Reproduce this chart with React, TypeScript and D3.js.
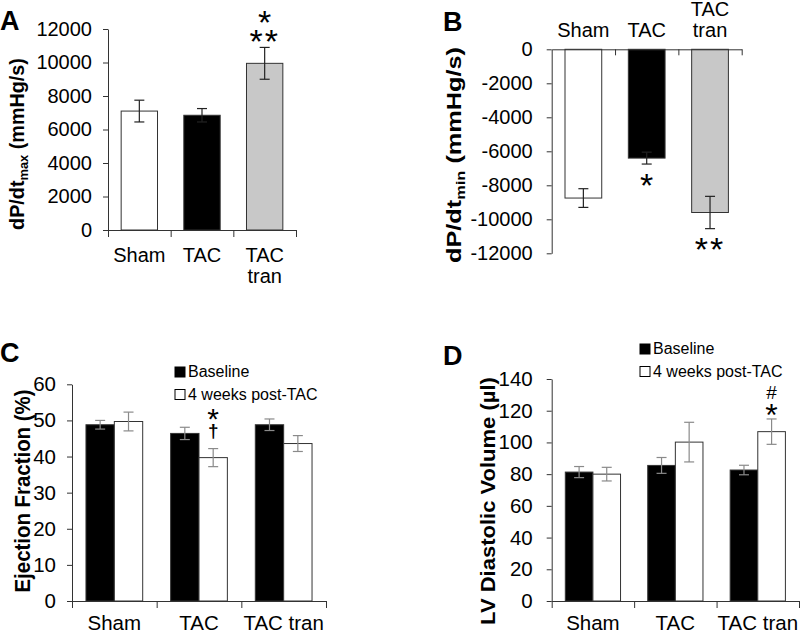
import React, { useEffect, useRef } from "react";
import * as d3 from "d3";

// groups and values
const groups = ["Sham", "TAC", "TAC tran"];
const barColors = ["#ffffff", "#000000", "#c8c8c8"];

const dpdtMax = [7100, 6850, 9950];
const dpdtMaxErr = [650, 400, 950];
const dpdtMin = [-8750, -6400, -9600];
const dpdtMinErr = [550, 350, 950];

const series = ["Baseline", "4 weeks post-TAC"];
const seriesColors = ["#000000", "#ffffff"];
const efBaseline = [48.8, 46.4, 48.8];
const efBaselineErr = [1.2, 1.7, 1.6];
const efPost = [49.7, 39.7, 43.6];
const efPostErr = [2.6, 2.5, 2.2];
const lvBaseline = [81.3, 85.5, 82.6];
const lvBaselineErr = [3.5, 5, 3];
const lvPost = [80, 100.2, 106.8];
const lvPostErr = [4.3, 12.5, 8];

const ticksA = [0, 2000, 4000, 6000, 8000, 10000, 12000];
const ticksB = [0, -2000, -4000, -6000, -8000, -10000, -12000];
const ticksC = [0, 10, 20, 30, 40, 50, 60];
const ticksD = [0, 20, 40, 60, 80, 100, 120, 140];

const FONT = "'Liberation Sans', Arial, sans-serif";
const AXIS_COLOR = "#333";

type Sel = d3.Selection<SVGGElement, unknown, null, undefined>;

function styleAxis(ax: Sel, fs: number) {
  ax.attr("font-family", FONT).attr("font-size", fs);
  ax.select(".domain").attr("stroke", AXIS_COLOR);
  ax.selectAll(".tick line").attr("stroke", AXIS_COLOR);
  ax.selectAll(".tick text").attr("fill", "#000");
}

function errBar(g: Sel, x: number, ya: number, yb: number, color: string) {
  const cap = 5;
  g.append("line").attr("x1", x).attr("x2", x).attr("y1", ya).attr("y2", yb).attr("stroke", color).attr("stroke-width", 1.2);
  [ya, yb].forEach((y) =>
    g.append("line").attr("x1", x - cap).attr("x2", x + cap).attr("y1", y).attr("y2", y).attr("stroke", color).attr("stroke-width", 1.2)
  );
}

// symbol centred vertically at cy (centerEm = glyph centre above baseline)
function mark(g: Sel, x: number, cy: number, s: string, fs: number, centerEm: number, weight = "normal") {
  g.append("text")
    .attr("x", x)
    .attr("y", cy + centerEm * fs)
    .attr("text-anchor", "middle")
    .attr("font-size", fs)
    .attr("font-weight", weight)
    .attr("letter-spacing", s.length > 1 ? 2 : 0)
    .text(s);
}

function yLabel(g: Sel, bx: number, cy: number, fs: number, len: number, main: string, sub: string, rest: string) {
  const t = g
    .append("text")
    .attr("text-anchor", "middle")
    .attr("font-weight", "bold")
    .attr("font-size", fs);
  t.append("tspan").text(main);
  if (sub) {
    t.append("tspan").attr("font-size", fs * 0.65).attr("dy", fs * 0.22).text(sub);
    t.append("tspan").attr("dy", -fs * 0.22).text(rest);
  }
  const natural = (t.node() as SVGTextElement).getComputedTextLength();
  t.attr("transform", `translate(${bx},${cy}) rotate(-90) scale(${len / natural},1)`);
}

function panelLetter(g: Sel, x: number, y: number, s: string) {
  g.append("text").attr("x", x).attr("y", y).attr("font-size", 27).attr("font-weight", "bold").text(s);
}

export default function App() {
  const ref = useRef<SVGSVGElement>(null);

  useEffect(() => {
    const svg = d3.select(ref.current);
    svg.selectAll("*").remove();
    const root = svg.append("g").attr("font-family", FONT) as unknown as Sel;

    // ---------- A : dP/dt max ----------
    {
      const g = root.append("g") as Sel;
      const x0 = 108, x1 = 296;
      const x = d3.scaleBand<string>().domain(groups).range([x0, x1]).paddingInner(0.42).paddingOuter(0.21);
      const y = d3.scaleLinear().domain([0, 12000]).range([230, 29]);
      const bw = x.bandwidth();

      g.selectAll("rect")
        .data(groups)
        .join("rect")
        .attr("x", (d) => x(d)!)
        .attr("y", (d, i) => y(dpdtMax[i]))
        .attr("width", bw)
        .attr("height", (d, i) => y(0) - y(dpdtMax[i]))
        .attr("fill", (d, i) => barColors[i])
        .attr("stroke", AXIS_COLOR);

      groups.forEach((d, i) =>
        errBar(g, x(d)! + bw / 2, y(dpdtMax[i] + dpdtMaxErr[i]), y(dpdtMax[i] - dpdtMaxErr[i]), "#222")
      );

      const ya = g.append("g").attr("transform", `translate(${x0},0)`) as Sel;
      ya.call(d3.axisLeft(y).tickValues(ticksA).tickFormat((d) => String(d)).tickSize(5).tickPadding(11).tickSizeOuter(0));
      styleAxis(ya, 20);

      const bnd = d3.scaleLinear().domain([0, 3]).range([x0, x1]);
      const xa = g.append("g").attr("transform", `translate(0,${y(0)})`) as Sel;
      xa.call(d3.axisBottom(bnd).tickValues([0, 1, 2, 3]).tickFormat(() => "").tickSize(7).tickSizeOuter(0));
      styleAxis(xa, 20);

      groups.forEach((d) => {
        d.split(" ").forEach((line, k) =>
          g.append("text").attr("x", x(d)! + bw / 2).attr("y", 262 + k * 20.5).attr("text-anchor", "middle").attr("font-size", 20).text(line)
        );
      });

      const top = y(dpdtMax[2] + dpdtMaxErr[2]);
      mark(g, x(groups[2])! + bw / 2, top - 14, "**", 34, 0.57);
      mark(g, x(groups[2])! + bw / 2, top - 33, "*", 34, 0.57);

      yLabel(g, 24, 144, 20, 172, "dP/dt", "max", " (mmHg/s)");
      panelLetter(g, 0, 30, "A");
    }

    // ---------- B : dP/dt min ----------
    {
      const g = root.append("g") as Sel;
      const x0 = 551.7, x1 = 741.7;
      const x = d3.scaleBand<string>().domain(groups).range([x0, x1]).paddingInner(0.42).paddingOuter(0.21);
      const y = d3.scaleLinear().domain([-12000, 0]).range([253.3, 49.3]);
      const bw = x.bandwidth();

      g.selectAll("rect")
        .data(groups)
        .join("rect")
        .attr("x", (d) => x(d)!)
        .attr("y", y(0))
        .attr("width", bw)
        .attr("height", (d, i) => y(dpdtMin[i]) - y(0))
        .attr("fill", (d, i) => barColors[i])
        .attr("stroke", AXIS_COLOR);

      groups.forEach((d, i) =>
        errBar(g, x(d)! + bw / 2, y(dpdtMin[i] + dpdtMinErr[i]), y(dpdtMin[i] - dpdtMinErr[i]), "#222")
      );

      const ya = g.append("g").attr("transform", `translate(${x0},0)`) as Sel;
      ya.call(d3.axisLeft(y).tickValues(ticksB).tickFormat((d) => String(d)).tickSize(5).tickPadding(14).tickSizeOuter(0));
      styleAxis(ya, 20);

      const bnd = d3.scaleLinear().domain([0, 3]).range([x0, x1]);
      const xa = g.append("g").attr("transform", `translate(0,${y(0)})`) as Sel;
      xa.call(d3.axisBottom(bnd).tickValues([1, 2, 3]).tickFormat(() => "").tickSize(6).tickSizeOuter(0));
      styleAxis(xa, 20);

      groups.forEach((d) => {
        const lines = d.split(" ");
        lines.forEach((line, k) =>
          g.append("text")
            .attr("x", x(d)! + bw / 2)
            .attr("y", 37 - (lines.length - 1 - k) * 21.5)
            .attr("text-anchor", "middle")
            .attr("font-size", 20)
            .text(line)
        );
      });

      mark(g, x(groups[1])! + bw / 2, y(dpdtMin[1] - dpdtMinErr[1]) + 14, "*", 34, 0.57);
      mark(g, x(groups[2])! + bw / 2, y(dpdtMin[2] - dpdtMinErr[2]) + 13, "**", 34, 0.57);

      yLabel(g, 461, 155, 20, 216, "dP/dt", "min", " (mmHg/s)");
      panelLetter(g, 443, 31, "B");
    }

    // ---------- grouped panels C and D ----------
    const grouped = (
      x0: number, x1: number, y0: number, y1: number, max: number, ticks: number[], pad: number,
      base: number[], baseErr: number[], post: number[], postErr: number[], lx: number, ly0: number
    ) => {
      const g = root.append("g") as Sel;
      const x = d3.scaleBand<string>().domain(groups).range([x0, x1]).paddingInner(0.33).paddingOuter(0.165);
      const xs = d3.scaleBand<string>().domain(series).range([0, x.bandwidth()]);
      const y = d3.scaleLinear().domain([0, max]).range([y0, y1]);
      const vals = [base, post];
      const errs = [baseErr, postErr];

      series.forEach((s, si) => {
        g.append("g")
          .selectAll("rect")
          .data(groups)
          .join("rect")
          .attr("x", (d) => x(d)! + xs(s)!)
          .attr("y", (d, i) => y(vals[si][i]))
          .attr("width", xs.bandwidth())
          .attr("height", (d, i) => y(0) - y(vals[si][i]))
          .attr("fill", seriesColors[si])
          .attr("stroke", AXIS_COLOR);
      });
      series.forEach((s, si) =>
        groups.forEach((d, i) =>
          errBar(g, x(d)! + xs(s)! + xs.bandwidth() / 2, y(vals[si][i] + errs[si][i]), y(vals[si][i] - errs[si][i]), "#8a8a8a")
        )
      );

      const ya = g.append("g").attr("transform", `translate(${x0},0)`) as Sel;
      ya.call(d3.axisLeft(y).tickValues(ticks).tickSize(5).tickPadding(pad).tickSizeOuter(0));
      styleAxis(ya, 20.5);

      const bnd = d3.scaleLinear().domain([0, 3]).range([x0, x1]);
      const xa = g.append("g").attr("transform", `translate(0,${y(0)})`) as Sel;
      xa.call(d3.axisBottom(bnd).tickValues([0, 1, 2, 3]).tickFormat(() => "").tickSize(7).tickSizeOuter(0));
      styleAxis(xa, 20);

      groups.forEach((d) =>
        g.append("text").attr("x", x(d)! + x.bandwidth() / 2).attr("y", 630).attr("text-anchor", "middle").attr("font-size", 20.5).text(d)
      );

      // legend
      series.forEach((s, si) => {
        const ly = ly0 + si * 22.5;
        g.append("rect").attr("x", lx).attr("y", ly - 10).attr("width", 10).attr("height", 10).attr("fill", seriesColors[si]).attr("stroke", "#000");
        g.append("text").attr("x", lx + 13).attr("y", ly).attr("font-size", 16).text(s);
      });
      return { g, x, xs, y };
    };

    {
      const { g, x, xs, y } = grouped(72, 326, 601, 384.3, 60, ticksC, 11, efBaseline, efBaselineErr, efPost, efPostErr, 175, 377);
      const cx = x(groups[1])! + xs(series[1])! + xs.bandwidth() / 2;
      const top = y(efPost[1] + efPostErr[1]);
      mark(g, cx, top - 17, "†", 19, 0.28, "bold");
      mark(g, cx, top - 37, "*", 30, 0.57);
      yLabel(g, 30, 491, 22, 203, "Ejection Fraction (%)", "", "");
      panelLetter(g, 0, 362, "C");
    }
    {
      const { g, x, xs, y } = grouped(551.7, 799, 601, 379, 140, ticksD, 14, lvBaseline, lvBaselineErr, lvPost, lvPostErr, 640, 354);
      const cx = x(groups[2])! + xs(series[1])! + xs.bandwidth() / 2;
      const top = y(lvPost[2] + lvPostErr[2]);
      mark(g, cx, top - 11, "*", 32, 0.57);
      mark(g, cx, top - 27, "#", 19, 0.35);
      yLabel(g, 495, 501, 21, 248, "LV Diastolic Volume (µl)", "", "");
      panelLetter(g, 443, 365, "D");
    }
  }, []);

  return (
    <svg
      ref={ref}
      width={800}
      height={635}
      style={{ position: "absolute", left: 0, top: 0, background: "#fff" }}
    />
  );
}
